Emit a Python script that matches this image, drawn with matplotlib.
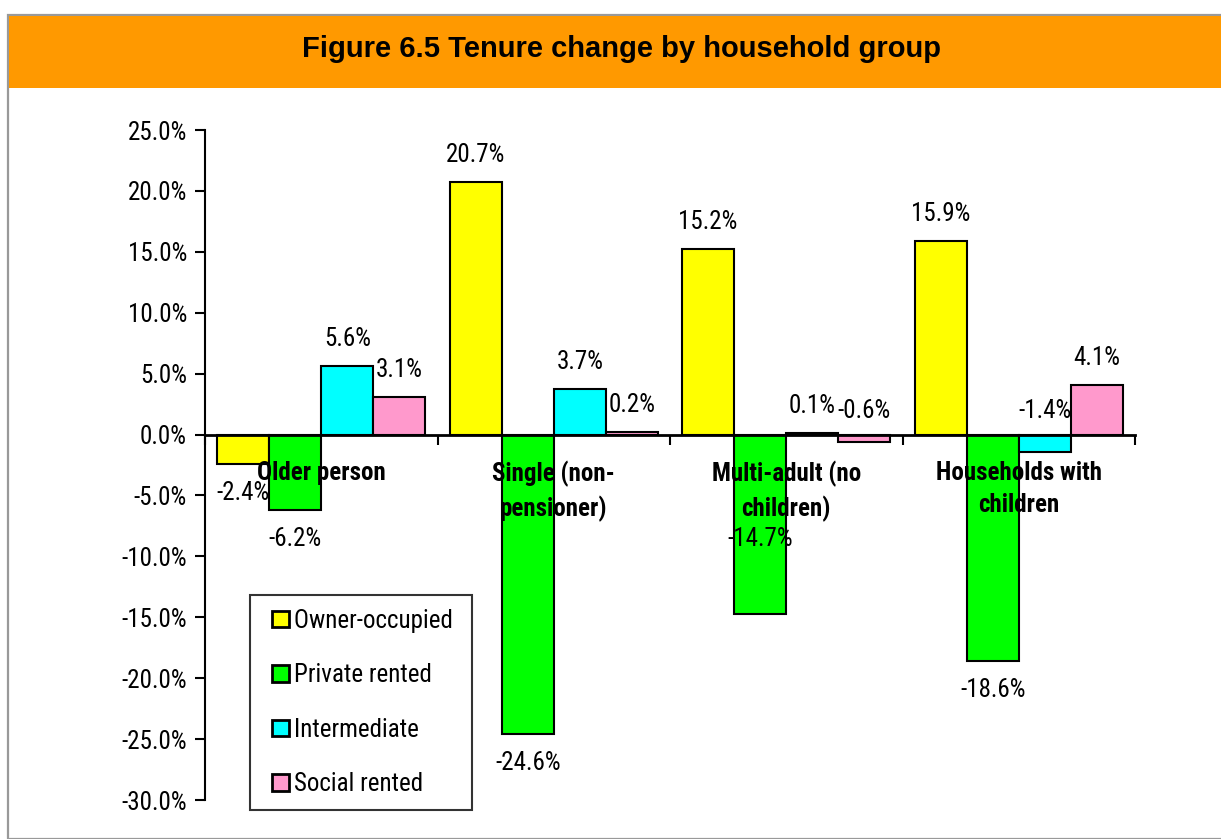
import matplotlib
matplotlib.use("Agg")
import matplotlib.pyplot as plt
from matplotlib.patches import Rectangle
from matplotlib.container import BarContainer
from matplotlib.legend_handler import HandlerPatch, update_from_first_child
from matplotlib.ticker import FixedLocator, FuncFormatter, NullFormatter

# donnees
groups = ["Older person", "Single (non-\npensioner)", "Multi-adult (no\nchildren)", "Households with\nchildren"]
series = ["Owner-occupied", "Private rented", "Intermediate", "Social rented"]
owner = [-2.4, 20.7, 15.2, 15.9]
private = [-6.2, -24.6, -14.7, -18.6]
intermediate = [5.6, 3.7, 0.1, -1.4]
social = [3.1, 0.2, -0.6, 4.1]
values = [owner, private, intermediate, social]

colors = ["#FFFF00", "#00FF00", "#00FFFF", "#FF99CC"]
# decalage vertical (px) des etiquettes, None = par defaut
label_shift = [
    [None, None, None, None],
    [None, None, 75, None],
    [None, None, None, 41],
    [None, None, 31, None],
]

FONT = ["Roboto Condensed", "Liberation Sans", "DejaVu Sans"]
plt.rcParams["font.family"] = FONT
FS = 18

W, H = 1221, 839
fig = plt.figure(figsize=(W / 100, H / 100), dpi=100)

# cadre gris + bandeau orange
fig.patches.append(Rectangle((8 / W, 0), 1, 1 - 15 / H, transform=fig.transFigure,
                             facecolor="white", edgecolor="#999999", lw=1.6, zorder=-2))
fig.patches.append(Rectangle((9 / W, 1 - 88 / H), 1, 72 / H, transform=fig.transFigure,
                             facecolor="#FF9900", edgecolor="none", zorder=-1))
fig.text(622 / W, 1 - 49 / H, "Figure 6.5 Tenure change by household group",
         ha="center", va="center", fontsize=21, fontweight="bold",
         family=["Liberation Sans", "DejaVu Sans"])

ax = fig.add_axes([205 / W, 1 - 800 / H, 930 / W, 670 / H])
ax.patch.set_alpha(0)

n = len(series)
bw = 0.224
for i in range(n):
    xs = [g - 1.5 * bw + i * bw for g in range(len(groups))]
    ax.bar(xs, values[i], width=bw, color=colors[i], edgecolor="black",
           linewidth=1.5, label=series[i], zorder=2)
    for g, (x, v) in enumerate(zip(xs, values[i])):
        off = label_shift[i][g]
        if off is None:
            off = 27 if v >= 0 else -29
        ax.annotate(f"{v:.1f}%", (x, v), xytext=(0, off), textcoords="offset pixels",
                    ha="center", va="center", fontsize=FS, zorder=6)

ax.set_xlim(-0.5, 3.5)
ax.set_ylim(-30, 25)
ax.set_yticks(range(-30, 26, 5))
ax.yaxis.set_major_formatter(FuncFormatter(lambda v, p: f"{v:.1f}%"))
ax.tick_params(axis="y", labelsize=FS, length=7, width=1.5, pad=6)

ax.spines["top"].set_visible(False)
ax.spines["right"].set_visible(False)
ax.spines["left"].set_linewidth(1.5)
ax.spines["bottom"].set_position(("data", 0))
ax.spines["bottom"].set_linewidth(2)
ax.spines["bottom"].set_zorder(4)

ax.xaxis.set_major_locator(FixedLocator([-0.5, 0.5, 1.5, 2.5, 3.5]))
ax.xaxis.set_major_formatter(NullFormatter())
ax.xaxis.set_minor_locator(FixedLocator(range(len(groups))))
ax.set_xticklabels(groups, minor=True, fontsize=FS, fontweight="bold", linespacing=1.4)
ax.tick_params(axis="x", which="major", length=7, width=1.5)
ax.tick_params(axis="x", which="minor", length=0, pad=19)
ax.xaxis.set_zorder(5)


# petit carre cale a droite de la zone du symbole
def square(legend, orig_handle, xdescent, ydescent, width, height, fontsize):
    return Rectangle((-xdescent + width - height, -ydescent), height, height)


leg = ax.legend(loc="lower left", bbox_to_anchor=(250 / W, 1 - 810 / H),
                bbox_transform=fig.transFigure, fontsize=FS, frameon=True,
                fancybox=False, edgecolor="black", labelspacing=1.22,
                handlelength=1.0, handleheight=0.65, handletextpad=0.2,
                borderpad=0.55, borderaxespad=0,
                handler_map={BarContainer: HandlerPatch(patch_func=square,
                                                        update_func=update_from_first_child)})
leg.get_frame().set_linewidth(1.5)
leg.set_zorder(7)
for h in leg.legend_handles:
    h.set_linewidth(2)
for t in leg.get_texts():
    t.set_text(t.get_text() + " ")

fig.savefig("out.png", dpi=100)
